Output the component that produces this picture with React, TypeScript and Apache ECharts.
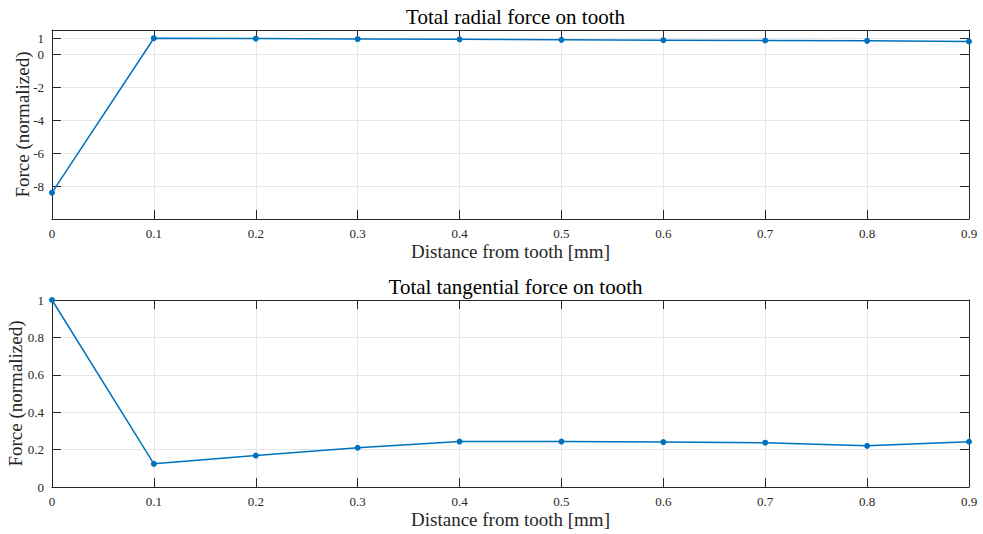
import React, { useEffect, useRef } from "react";
import * as echarts from "echarts";

// Distance from tooth [mm]
const distance = [0, 0.1, 0.2, 0.3, 0.4, 0.5, 0.6, 0.7, 0.8, 0.9];
// Normalized total radial force
const radialForce = [-8.4, 1.0, 0.98, 0.95, 0.93, 0.9, 0.88, 0.86, 0.84, 0.8];
// Normalized total tangential force
const tangentialForce = [1.0, 0.124, 0.168, 0.21, 0.243, 0.243, 0.24, 0.237, 0.22, 0.242];
// Tick values on the radial force axis
const radialTicks = [-8, -6, -4, -2, 0, 1];

const FONT = "'Liberation Serif', 'DejaVu Serif', serif";
const AXIS = "#262626";
const GRID = "#e6e6e6";
const LINE = "#0072BD";

const PLOT_LEFT = 52;
const PLOT_RIGHT = 14;
const PLOT_CENTER = (PLOT_LEFT + (983 - PLOT_RIGHT)) / 2;

const pairs = (ys: number[]) => distance.map((x, i) => [x, ys[i]]);

function xAxes(gridIndex: number) {
  const base = {
    type: "value" as const,
    gridIndex,
    min: 0,
    max: 0.9,
    interval: 0.1,
    axisLine: { show: true, onZero: false, lineStyle: { color: AXIS, width: 1 } },
    axisTick: { show: true, inside: true, length: 9, lineStyle: { color: AXIS } },
  };
  return [
    {
      ...base,
      position: "bottom" as const,
      name: "Distance from tooth [mm]",
      nameLocation: "middle" as const,
      nameGap: 23,
      nameMoveOverlap: false,
      nameTextStyle: { fontFamily: FONT, fontSize: 19, color: AXIS },
      axisLabel: {
        fontFamily: FONT,
        fontSize: 13,
        color: AXIS,
        margin: 8,
        formatter: (v: number) => String(Math.round(v * 10) / 10),
      },
      splitLine: { show: true, lineStyle: { color: GRID, width: 1 } },
    },
    {
      ...base,
      position: "top" as const,
      axisLabel: { show: false },
      splitLine: { show: false },
    },
  ];
}

function yAxes(gridIndex: number, extra: any, nameGap: number) {
  const { ticks, ...range } = extra;
  const custom = ticks ? { customValues: ticks } : {};
  const base = {
    type: "value" as const,
    gridIndex,
    axisLine: { show: true, onZero: false, lineStyle: { color: AXIS, width: 1 } },
    ...range,
  };
  return [
    {
      ...base,
      position: "left" as const,
      name: "Force (normalized)",
      nameLocation: "middle" as const,
      nameGap,
      nameMoveOverlap: false,
      nameTextStyle: { fontFamily: FONT, fontSize: 19, color: AXIS },
      axisTick: { show: true, inside: true, length: 9, lineStyle: { color: AXIS }, ...custom },
      axisLabel: {
        fontFamily: FONT,
        fontSize: 13,
        color: AXIS,
        margin: 8,
        ...custom,
        formatter: (v: number) => String(Math.round(v * 10) / 10),
      },
      splitLine: { show: true, lineStyle: { color: GRID, width: 1 } },
    },
    {
      ...base,
      position: "right" as const,
      axisTick: { show: true, inside: true, length: 9, lineStyle: { color: AXIS }, ...custom },
      axisLabel: { show: false },
      splitLine: { show: false },
    },
  ];
}

export default function App() {
  const ref = useRef<HTMLDivElement>(null);

  useEffect(() => {
    if (!ref.current) return;
    const chart = echarts.init(ref.current, undefined, { renderer: "svg" });

    const series = (data: number[], xi: number, yi: number) => ({
      type: "line" as const,
      xAxisIndex: xi,
      yAxisIndex: yi,
      data: pairs(data),
      symbol: "circle",
      symbolSize: 6,
      showSymbol: true,
      clip: false,
      lineStyle: { color: LINE, width: 1.5 },
      itemStyle: { color: LINE },
    });

    const titleStyle = { fontFamily: FONT, fontSize: 21, fontWeight: "normal", color: "#000" };

    chart.setOption({
      animation: false,
      backgroundColor: "#ffffff",
      title: [
        { text: "Total radial force on tooth", left: PLOT_CENTER, textAlign: "center", top: 1, textStyle: titleStyle },
        { text: "Total tangential force on tooth", left: PLOT_CENTER, textAlign: "center", top: 271, textStyle: titleStyle },
      ],
      grid: [
        { left: PLOT_LEFT, right: PLOT_RIGHT, top: 30, height: 189, outerBoundsMode: "none", containLabel: false },
        { left: PLOT_LEFT, right: PLOT_RIGHT, top: 300, height: 187, outerBoundsMode: "none", containLabel: false },
      ],
      xAxis: [...xAxes(0), ...xAxes(1)],
      yAxis: [
        ...yAxes(0, { min: -10, max: 1.5, ticks: radialTicks }, 20),
        ...yAxes(1, { min: 0, max: 1, interval: 0.2 }, 27),
      ],
      series: [series(radialForce, 0, 0), series(tangentialForce, 2, 2)],
    });

    return () => chart.dispose();
  }, []);

  return <div ref={ref} style={{ width: 983, height: 534, position: "absolute", left: 0, top: 0 }} />;
}
